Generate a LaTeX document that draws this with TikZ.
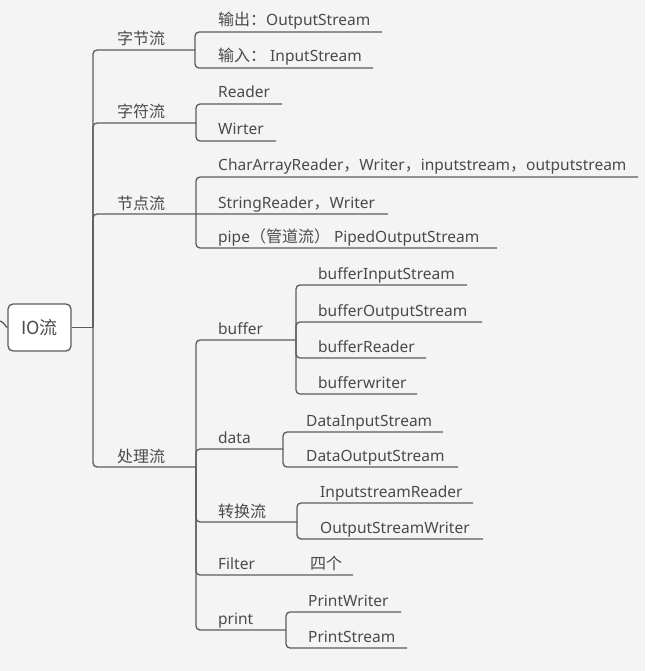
\documentclass[tikz,border=0pt]{standalone}
\usepackage{fontspec}
\setmainfont{Noto Sans}
\newfontfamily\cjfont{Noto Sans CJK SC}
\newcommand\zhtxt[1]{{\cjfont\fontsize{16}{18}\selectfont #1}}
\definecolor{bg}{HTML}{F4F4F4}
\definecolor{tx}{HTML}{4A4A4A}
\definecolor{ln}{HTML}{5C5C5C}
\begin{document}
\begin{tikzpicture}[x=1pt,y=-1pt,
  lbl/.style={anchor=base west, inner sep=0pt, text=tx, font=\fontsize{15.5}{18}\selectfont},
  conn/.style={draw=ln, line width=1.3pt, rounded corners=4pt},
  rootbox/.style={draw=ln, fill=white, line width=1.3pt, rounded corners=5pt,
    minimum width=63pt, minimum height=47pt, inner sep=0pt, text=tx,
    font=\cjfont\fontsize{18}{20}\selectfont}]
\fill[bg] (0,0) rectangle (645,671);
\useasboundingbox (0,0) rectangle (645,671);

% root
\node[rootbox] (root) at (39.5,327.5) {IO流};
\coordinate (in) at (0,321);
\draw[conn] (in) .. controls (4,322) and (6,327.5) .. (root.west);
\coordinate (T) at (93,327.5);
\draw[conn] (root.east) -- (T);

% level 1
\coordinate (J1) at (195,50);
\coordinate (J2) at (196,123);
\coordinate (J3) at (196,214);
\coordinate (J4) at (196,467);
\coordinate (e32) at (388,214);
\draw[conn] (T) |- (J1);
\draw[conn] (T) |- (J2);
\draw[conn] (T) |- (J3) -- (e32);
\draw[conn] (T) |- (J4);
\node[lbl] (n1) at (117,45) {\zhtxt{字节流}};
\node[lbl] (n2) at (117,118) {\zhtxt{字符流}};
\node[lbl] (n3) at (117,209) {\zhtxt{节点流}};
\node[lbl] (n4) at (117,462) {\zhtxt{处理流}};

% 字节流
\coordinate (e11) at (382,32);
\coordinate (e12) at (373,68);
\draw[conn] (J1) |- (e11);
\draw[conn] (J1) |- (e12);
\node[lbl] (c11) at (218,26) {\zhtxt{输出：}OutputStream};
\node[lbl] (c12) at (218,62) {\zhtxt{输入：} InputStream};

% 字符流
\coordinate (e21) at (282,104);
\coordinate (e22) at (276,141);
\draw[conn] (J2) |- (e21);
\draw[conn] (J2) |- (e22);
\node[lbl] (c21) at (218,98) {Reader};
\node[lbl] (c22) at (218,135) {Wirter};

% 节点流
\coordinate (e31) at (638,177);
\coordinate (e33) at (497,248);
\draw[conn] (J3) |- (e31);
\draw[conn] (J3) |- (e33);
\node[lbl] (c31) at (218,171) {CharArrayReader\zhtxt{，}Writer\zhtxt{，}inputstream\zhtxt{，}outputstream};
\node[lbl] (c32) at (218,208) {StringReader\zhtxt{，}Writer};
\node[lbl] (c33) at (218,242) {pipe\zhtxt{（管道流）} PipedOutputStream};

% 处理流
\coordinate (J5) at (296,340);
\coordinate (J6) at (283,449);
\coordinate (J7) at (297,522);
\coordinate (JF) at (290,575);
\coordinate (eF) at (353,575);
\coordinate (J8) at (286,630);
\draw[conn] (J4) |- (J5);
\draw[conn] (J4) |- (J6);
\draw[conn] (J4) |- (J7);
\draw[conn] (J4) |- (JF) -- (eF);
\draw[conn] (J4) |- (J8);
\node[lbl] (m1) at (218,334) {buffer};
\node[lbl] (m2) at (218,443) {data};
\node[lbl] (m3) at (218,517) {\zhtxt{转换流}};
\node[lbl] (m4) at (218,569) {Filter};
\node[lbl] (m5) at (218,624) {print};

% buffer
\coordinate (e51) at (467,285);
\coordinate (e52) at (482,322);
\coordinate (e53) at (426,358);
\coordinate (e54) at (417,394);
\draw[conn] (J5) |- (e51);
\draw[conn] (J5) |- (e52);
\draw[conn] (J5) |- (e53);
\draw[conn] (J5) |- (e54);
\node[lbl] (b1) at (318,279) {bufferInputStream};
\node[lbl] (b2) at (318,316) {bufferOutputStream};
\node[lbl] (b3) at (318,352) {bufferReader};
\node[lbl] (b4) at (318,388) {bufferwriter};

% data
\coordinate (e61) at (443,432);
\coordinate (e62) at (458,467);
\draw[conn] (J6) |- (e61);
\draw[conn] (J6) |- (e62);
\node[lbl] (d1) at (306,426) {DataInputStream};
\node[lbl] (d2) at (306,461) {DataOutputStream};

% 转换流
\coordinate (e71) at (473,503);
\coordinate (e72) at (483,539);
\draw[conn] (J7) |- (e71);
\draw[conn] (J7) |- (e72);
\node[lbl] (z1) at (320,497) {InputstreamReader};
\node[lbl] (z2) at (320,533) {OutputStreamWriter};

% Filter child
\node[lbl] (f1) at (310,569) {\zhtxt{四个}};

% print
\coordinate (e81) at (401,612);
\coordinate (e82) at (407,648);
\draw[conn] (J8) |- (e81);
\draw[conn] (J8) |- (e82);
\node[lbl] (p1) at (308,606) {PrintWriter};
\node[lbl] (p2) at (308,642) {PrintStream};
\end{tikzpicture}
\end{document}
